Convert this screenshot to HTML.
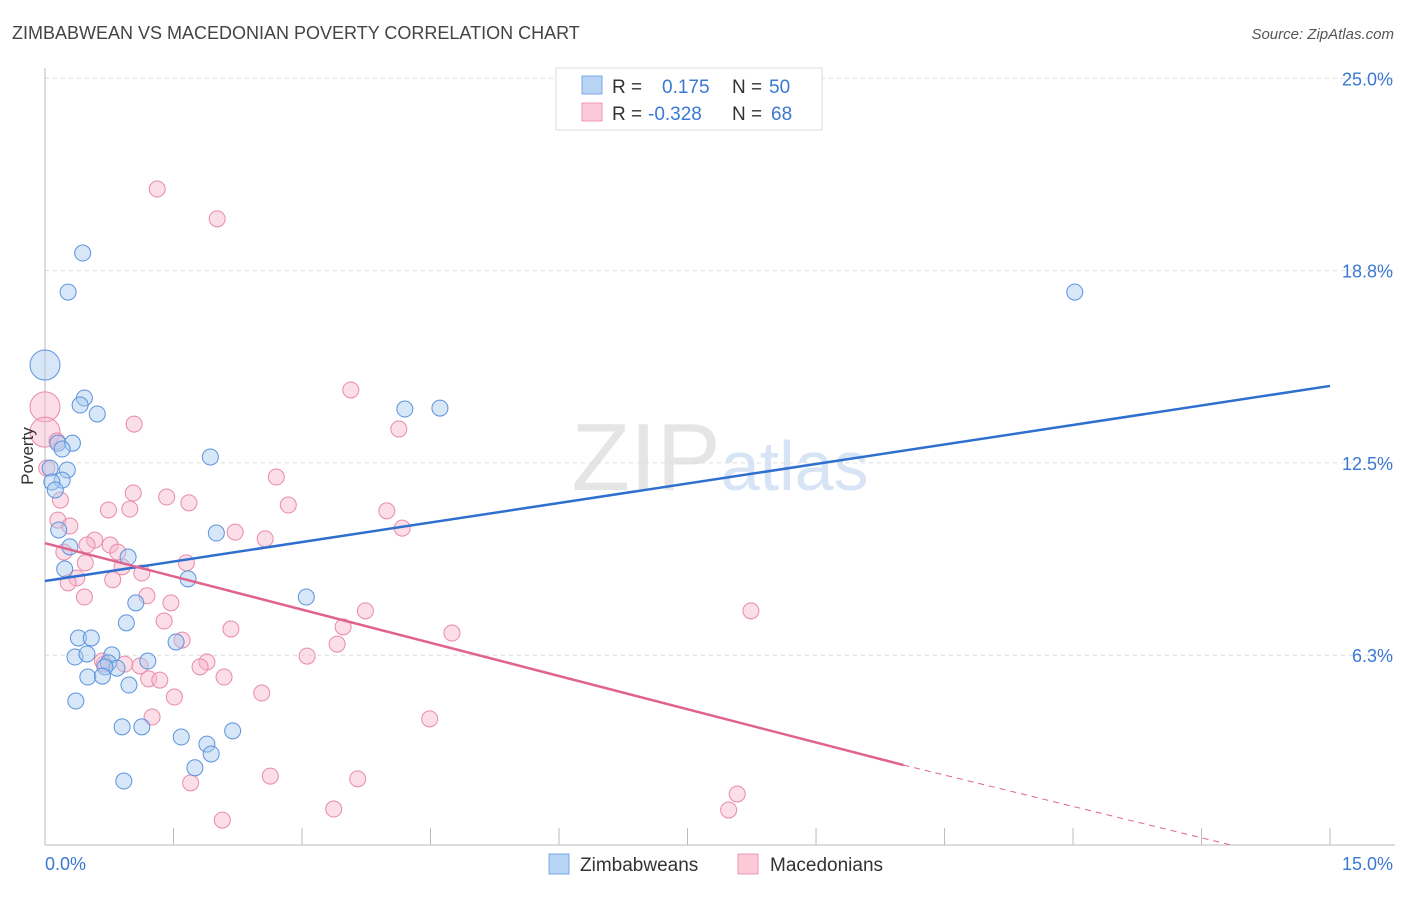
<!DOCTYPE html>
<html><head><meta charset="utf-8"><style>
body{margin:0;background:#fff;font-family:"Liberation Sans",sans-serif;}
svg text{font-family:"Liberation Sans",sans-serif;}
</style></head><body>
<svg id="chart" width="1406" height="892" viewBox="0 0 1406 892" xmlns="http://www.w3.org/2000/svg">
<text x="12" y="39" font-size="18" fill="#444">ZIMBABWEAN VS MACEDONIAN POVERTY CORRELATION CHART</text>
<text x="1394" y="39" font-size="15" fill="#555" text-anchor="end" font-style="italic">Source: ZipAtlas.com</text>
<text x="720" y="490" font-size="96" fill="#e5e5e5" text-anchor="middle" font-family="Liberation Serif">ZIP<tspan fill="#d6e4f5" font-family="Liberation Sans" font-size="70">atlas</tspan></text>
<g id="grid"></g>
<g id="axes"></g>
<g id="marks"></g>
<text transform="translate(33,456) rotate(-90)" font-size="17" fill="#333" text-anchor="middle">Poverty</text>
<g>
<rect x="556" y="68" width="266" height="62" fill="#fff" stroke="#ddd"/>
<rect x="582" y="76" width="20" height="18" fill="#b8d4f5" stroke="#7aa9e6"/>
<rect x="582" y="103" width="20" height="18" fill="#fbc9d8" stroke="#ee9ab3"/>
<text x="612" y="93" font-size="19" fill="#333">R =</text><text x="662" y="93" font-size="19" fill="#3a78d4">0.175</text>
<text x="732" y="93" font-size="19" fill="#333">N =</text><text x="769" y="93" font-size="19" fill="#3a78d4">50</text>
<text x="612" y="120" font-size="19" fill="#333">R =</text><text x="648" y="120" font-size="19" fill="#3a78d4">-0.328</text>
<text x="732" y="120" font-size="19" fill="#333">N =</text><text x="771" y="120" font-size="19" fill="#3a78d4">68</text>
</g>
<g>
<rect x="549" y="854" width="20" height="20" fill="#b8d4f5" stroke="#7aa9e6"/>
<text x="580" y="871" font-size="19" fill="#333">Zimbabweans</text>
<rect x="738" y="854" width="20" height="20" fill="#fbc9d8" stroke="#ee9ab3"/>
<text x="770" y="871" font-size="19" fill="#333">Macedonians</text>
</g>
</svg>
<script>
const yTicks=[25,18.75,12.5,6.25];
const yTickLabels=["25.0%","18.8%","12.5%","6.3%"];
const xTicks=[0,1.5,3,4.5,6,7.5,9,10.5,12,13.5,15];
const xTickLabels=["0.0%","15.0%"];
const zimX=[0,.44,.27,12.02,.46,.41,.61,4.20,4.61,.15,.32,.20,1.93,.06,.26,.20,.08,.12,.16,2.00,.29,.97,.23,1.67,3.05,1.06,.95,.39,.54,1.53,.78,.35,.49,1.20,.74,.84,.70,.50,.67,.98,.36,.90,1.13,1.59,1.89,2.19,1.94,1.75,.92];
const zimY=[15.68,19.32,18.05,18.05,14.61,14.38,14.09,14.25,14.28,13.14,13.14,12.95,12.69,12.33,12.27,11.94,11.88,11.62,10.32,10.22,9.77,9.44,9.05,8.73,8.14,7.95,7.30,6.81,6.81,6.68,6.26,6.19,6.29,6.06,6.00,5.83,5.87,5.54,5.57,5.28,4.76,3.92,3.92,3.59,3.36,3.79,3.04,2.59,2.16];
const macX=[1.31,2.01,0,0,3.57,1.04,4.13,.14,.02,2.70,1.03,1.42,1.68,2.84,.18,.74,.99,3.99,.15,.29,4.17,2.22,2.57,.58,.76,.49,.85,.22,.47,.90,1.65,1.13,.37,.27,.79,1.19,.46,1.47,3.74,8.24,1.39,3.48,2.17,4.75,1.60,3.41,3.06,1.89,.69,.93,.67,1.81,1.11,2.09,1.21,1.34,1.51,2.53,1.25,4.49,2.63,3.65,1.70,3.37,8.08,7.98,2.07];
const macY=[21.40,20.43,14.32,13.50,14.87,13.76,13.60,13.21,12.33,12.04,11.52,11.39,11.20,11.13,11.29,10.97,11.00,10.94,10.64,10.45,10.38,10.25,10.03,9.99,9.83,9.83,9.60,9.60,9.25,9.12,9.25,8.92,8.76,8.60,8.70,8.18,8.14,7.95,7.69,7.69,7.36,7.17,7.10,6.97,6.74,6.61,6.22,6.03,5.96,5.96,6.06,5.87,5.90,5.54,5.48,5.44,4.89,5.02,4.24,4.18,2.32,2.23,2.10,1.25,1.74,1.22,0.89];
const zimTrend=[8.66,15.0];
const macTrend=[9.89,2.68,10.02];
const NS="http://www.w3.org/2000/svg";
const X=v=>45+v*85.67, Y=v=>847.5-v*30.77;
function mk(p,t,a){const e=document.createElementNS(NS,t);for(const k in a)e.setAttribute(k,a[k]);p.appendChild(e);return e;}
const grid=document.getElementById('grid'),axes=document.getElementById('axes'),marks=document.getElementById('marks');
yTicks.forEach((t,i)=>{
 const l=mk(grid,'line',{x1:45,x2:1395,y1:Y(t),y2:Y(t),stroke:'#ddd','stroke-dasharray':'4,4'});
 
 
 const tx=mk(axes,'text',{x:1393,y:Y(t)+7,'font-size':18,fill:'#3a78d4','text-anchor':'end'});
 tx.textContent=yTickLabels[i];
 
 
});
let a=mk(axes,'line',{x1:45,x2:45,y1:68,y2:845,stroke:'#bbb'});

a=mk(axes,'line',{x1:45,x2:1395,y1:845,y2:845,stroke:'#bbb'});

xTicks.forEach(t=>{const l=mk(axes,'line',{x1:X(t),x2:X(t),y1:828,y2:845,stroke:'#bbb'});
 
 });
let tl=mk(axes,'text',{x:45,y:870,'font-size':18,fill:'#3a78d4'});tl.textContent=xTickLabels[0];

tl=mk(axes,'text',{x:1393,y:870,'font-size':18,fill:'#3a78d4','text-anchor':'end'});tl.textContent=xTickLabels[1];

function dots(xs,ys,fill,stroke,name){xs.forEach((x,i)=>{
 const r=(x===0)?15:8;
 const c=mk(marks,'circle',{cx:X(x),cy:Y(ys[i]),r:r,fill:fill,'fill-opacity':0.45,stroke:stroke,'stroke-width':1});
 
 });}
dots(macX,macY,'#f7b6cb','#e98aa8','macedonian-point');
dots(zimX,zimY,'#a9c9f0','#5a93dd','zimbabwean-point');
let t=mk(marks,'line',{x1:X(0),y1:Y(zimTrend[0]),x2:X(15),y2:Y(zimTrend[1]),stroke:'#2f6fd0','stroke-width':2.5});

t=mk(marks,'line',{x1:X(0),y1:Y(macTrend[0]),x2:X(macTrend[2]),y2:Y(macTrend[1]),stroke:'#e0638e','stroke-width':2.5});

const slope=(macTrend[1]-macTrend[0])/macTrend[2];
const xEnd=Math.min(15,-macTrend[0]/slope+0.1);
t=mk(marks,'line',{x1:X(macTrend[2]),y1:Y(macTrend[1]),x2:X(xEnd),y2:Math.min(845,Y(macTrend[0]+slope*xEnd)),stroke:'#e0638e','stroke-width':1,'stroke-dasharray':'6,5'});

</script>
</body></html>
